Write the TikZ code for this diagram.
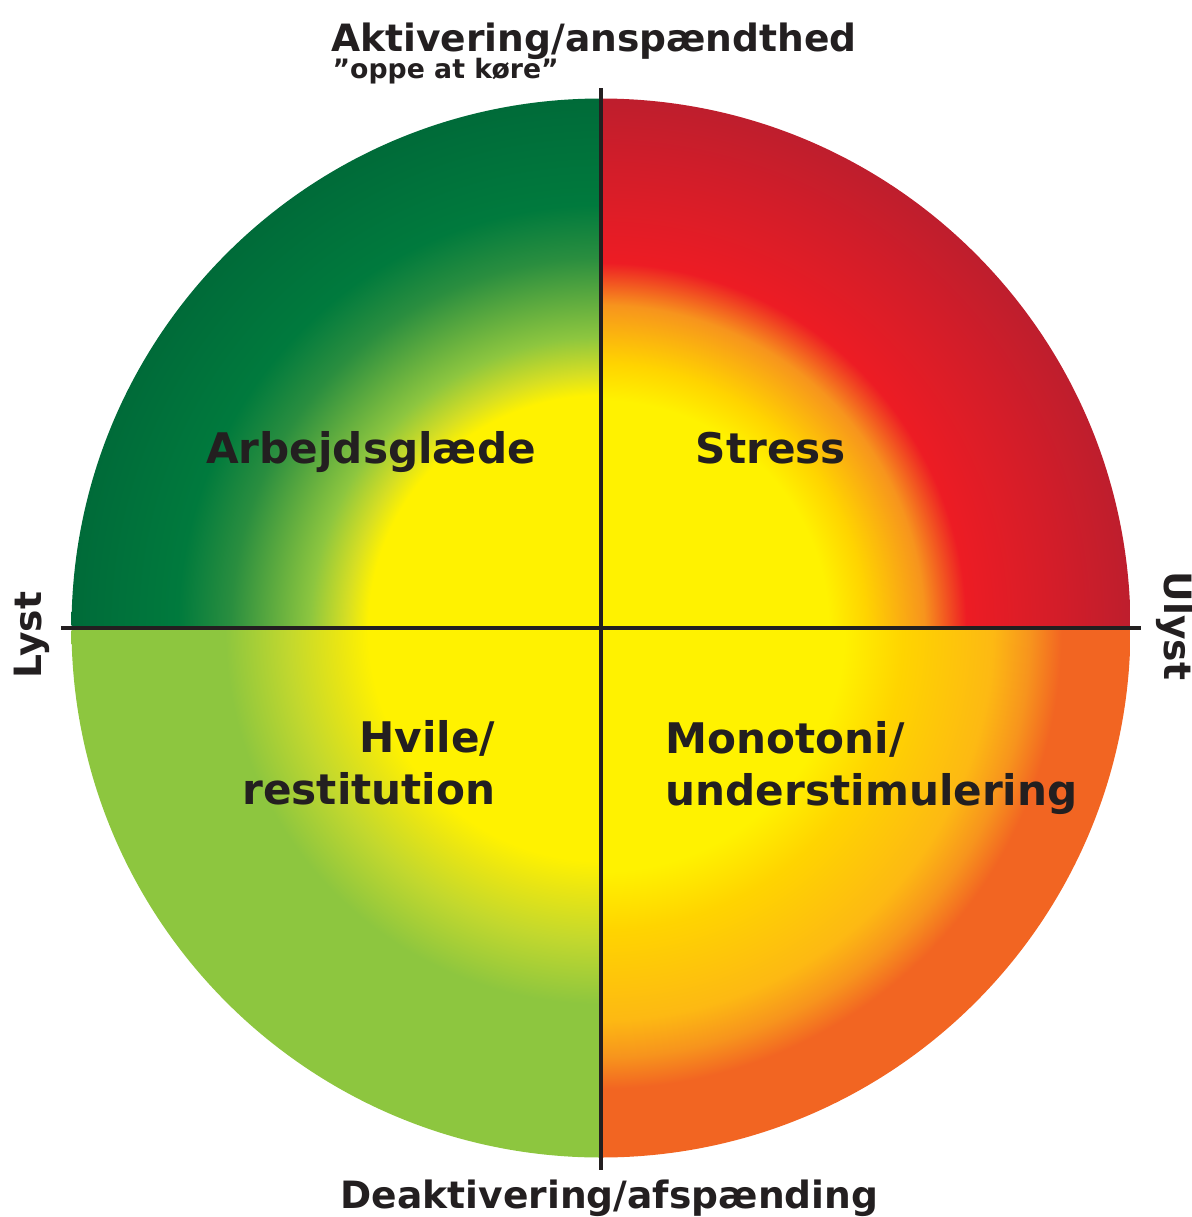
\documentclass[tikz,border=0pt]{standalone}
\usepackage{fontspec}
\setmainfont{DejaVu Sans}
\usepackage{tikz}

\definecolor{txt}{HTML}{231F20}
\definecolor{ylw}{HTML}{FFF200}
\definecolor{gold}{HTML}{FFD400}
\definecolor{amber}{HTML}{FDB913}
\definecolor{orng}{HTML}{F7941D}
\definecolor{darkorng}{HTML}{F26522}
\definecolor{rd}{HTML}{ED1C24}
\definecolor{darkrd}{HTML}{BE1E2D}
\definecolor{ygreen}{HTML}{D7DF23}
\definecolor{pgreen}{HTML}{E8E514}
\definecolor{sgreen}{HTML}{C2D82E}
\definecolor{lgreen}{HTML}{8DC63F}
\definecolor{mgreen}{HTML}{2A8E3F}
\definecolor{green}{HTML}{007A3D}
\definecolor{dgreen}{HTML}{006B39}

% radius of the circle = 5.295cm = 150.1bp
\pgfdeclareradialshading{gladshade}{\pgfpoint{0bp}{0bp}}{color(0bp)=(ylw); color(66bp)=(ylw); color(72bp)=(ygreen); color(82.5bp)=(lgreen); color(105bp)=(mgreen); color(120bp)=(green); color(150bp)=(dgreen); color(160bp)=(dgreen)}
\pgfdeclareradialshading{stressshade}{\pgfpoint{0bp}{0bp}}{color(0bp)=(ylw); color(64.5bp)=(ylw); color(75bp)=(gold); color(91.6bp)=(orng); color(103.6bp)=(rd); color(132bp)=(darkrd!60!rd); color(150bp)=(darkrd); color(160bp)=(darkrd)}
\pgfdeclareradialshading{hvileshade}{\pgfpoint{0bp}{0bp}}{color(0bp)=(ylw); color(66bp)=(ylw); color(75bp)=(pgreen); color(88.6bp)=(sgreen); color(106.6bp)=(lgreen); color(160bp)=(lgreen)}
\pgfdeclareradialshading{monoshade}{\pgfpoint{0bp}{0bp}}{color(0bp)=(ylw); color(69bp)=(ylw); color(85.6bp)=(gold); color(111bp)=(amber); color(121.6bp)=(orng); color(130.6bp)=(darkorng); color(160bp)=(darkorng)}

\begin{document}
\begin{tikzpicture}[
	axislabel/.style={text=txt, inner sep=0pt, font=\bfseries\fontsize{10.7}{12}\selectfont},
	quadlabel/.style={text=txt, inner sep=0pt, font=\bfseries\fontsize{12}{14.8}\selectfont},
	axis/.style={color=txt, line width=1.2pt}]
	\useasboundingbox (-6.01,-5.89) rectangle (5.91,6.28);
	
	% the four quarters
	\begin{scope}
		\clip (0,0) -- (-5.295,0) arc(180:90:5.295) -- cycle;
		\pgftext{\pgfuseshading{gladshade}}
	\end{scope}
	\begin{scope}
		\clip (0,0) -- (0,5.295) arc(90:0:5.295) -- cycle;
		\pgftext{\pgfuseshading{stressshade}}
	\end{scope}
	\begin{scope}
		\clip (0,0) -- (0,-5.295) arc(270:180:5.295) -- cycle;
		\pgftext{\pgfuseshading{hvileshade}}
	\end{scope}
	\begin{scope}
		\clip (0,0) -- (5.295,0) arc(0:-90:5.295) -- cycle;
		\pgftext{\pgfuseshading{monoshade}}
	\end{scope}
	
	% axes
	\coordinate (top) at (0,5.40);
	\coordinate (bottom) at (0,-5.42);
	\coordinate (left) at (-5.40,0);
	\coordinate (right) at (5.40,0);
	\draw[axis] (top) -- (bottom);
	\draw[axis] (left) -- (right);
	
	\node[axislabel, anchor=base] (akt) at (-0.07,5.77) {Aktivering/anspændthed};
	\node[axislabel, anchor=base west, font=\bfseries\fontsize{7.6}{9}\selectfont] (oppe) at (-2.69,5.50) {”oppe at køre”};
	\node[axislabel, anchor=base] (deakt) at (0.085,-5.80) {Deaktivering/afspænding};
	\node[axislabel, rotate=90] (lyst) at (-5.69,-0.07) {Lyst};
	\node[axislabel, rotate=-90] (ulyst) at (5.74,0.02) {Ulyst};
	
	\node[quadlabel, anchor=base] (glad) at (-2.30,1.65) {Arbejdsglæde};
	\node[quadlabel, anchor=base] (stress) at (1.70,1.65) {Stress};
	\node[quadlabel, align=right, anchor=east] (hvile) at (-1.05,-1.35) {Hvile/\\restitution};
	\node[quadlabel, align=left, anchor=west] (mono) at (0.64,-1.40) {Monotoni/\\understimulering};
\end{tikzpicture}
\end{document}
